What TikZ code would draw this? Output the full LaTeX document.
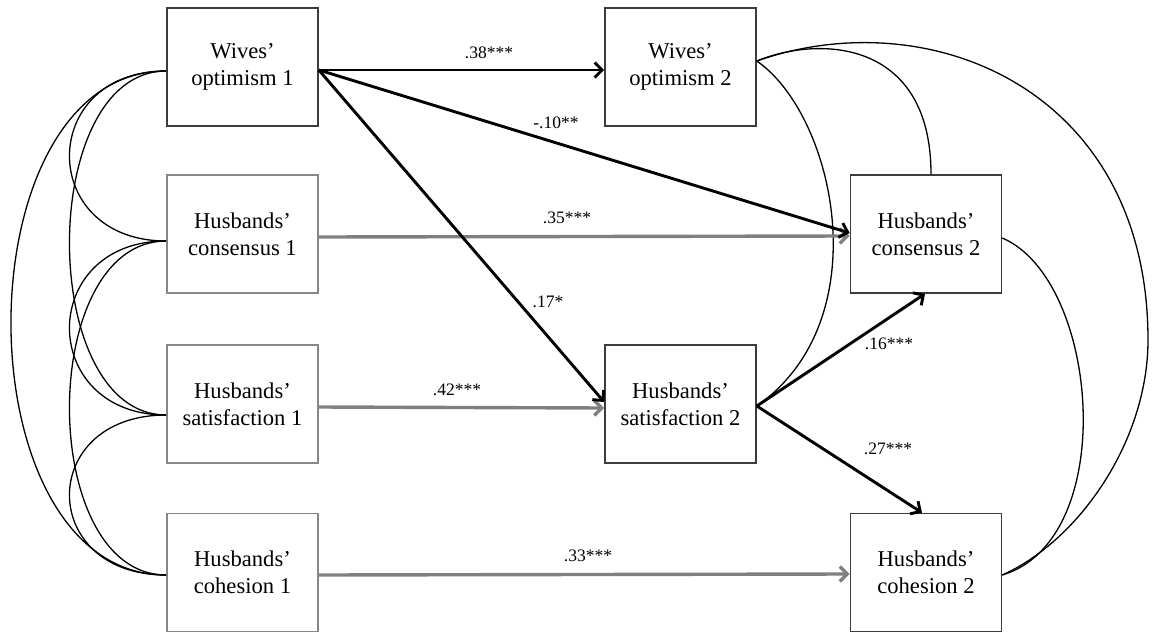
\documentclass[tikz,border=0pt]{standalone}
\usepackage{fontspec}
\setmainfont{Liberation Serif}
\usetikzlibrary{arrows.meta}
\definecolor{boxdark}{RGB}{60,60,60}
\definecolor{boxlight}{RGB}{135,135,135}
\definecolor{arrowgray}{RGB}{128,128,128}
\begin{document}
\begin{tikzpicture}[x=1pt,y=-1pt,
  box/.style={draw=boxdark, fill=white, line width=1.6pt, minimum width=151pt, minimum height=118pt, align=center, inner sep=0pt, font=\fontsize{22.6}{27}\selectfont},
  lbox/.style={box, draw=boxlight},
  blk/.style={line width=2.9pt, black, -{Straight Barb[length=7.5pt,width=15pt,line width=2.9pt]}},
  gry/.style={line width=3.4pt, arrowgray, -{Straight Barb[length=7.5pt,width=15pt,line width=3.4pt]}},
  cov/.style={line width=1.3pt, black},
  lab/.style={font=\fontsize{17.5}{20}\selectfont, inner sep=0pt}
]
\useasboundingbox (0,0) rectangle (1152,632);

% boxes
\node[box]  (W1) at (242.5,67)    {Wives’\\optimism 1};
\node[lbox] (C1) at (242.5,234)   {Husbands’\\consensus 1};
\node[lbox] (S1) at (242.5,404)   {Husbands’\\satisfaction 1};
\node[lbox] (H1) at (242.5,572.5) {Husbands’\\cohesion 1};
\node[box]  (W2) at (680.5,67)    {Wives’\\optimism 2};
\node[box]  (S2) at (680.5,404)   {Husbands’\\satisfaction 2};
\node[box]  (C2) at (926,234)     {Husbands’\\consensus 2};
\node[box]  (H2) at (926,572.5)   {Husbands’\\cohesion 2};

% attachment points
\coordinate (W1l) at ([yshift=-4pt]W1.west);
\coordinate (C1l) at ([yshift=-7pt]C1.west);
\coordinate (S1l) at ([yshift=-11pt]S1.west);
\coordinate (H1l) at ([yshift=-2.5pt]H1.west);
\coordinate (W1r) at ([yshift=-3pt]W1.east);
\coordinate (C1r) at ([yshift=-3pt]C1.east);
\coordinate (S1r) at ([yshift=-3pt]S1.east);
\coordinate (H1r) at ([yshift=-2.5pt]H1.east);
\coordinate (W2l) at ([yshift=-3pt]W2.west);
\coordinate (W2r) at ([yshift=6pt]W2.east);
\coordinate (S2la) at ([yshift=2pt]S2.west);
\coordinate (S2lb) at ([yshift=-4pt]S2.west);
\coordinate (S2r) at ([yshift=-2pt]S2.east);
\coordinate (C2la) at ([yshift=1pt]C2.west);
\coordinate (C2lb) at ([yshift=-2pt]C2.west);
\coordinate (C2b) at ([xshift=-1pt]C2.south);
\coordinate (C2t) at ([xshift=5pt]C2.north);
\coordinate (C2r) at ([yshift=-4pt]C2.east);
\coordinate (H2l) at ([yshift=-1.5pt]H2.west);
\coordinate (H2t) at ([xshift=-4pt]H2.north);
\coordinate (H2r) at ([yshift=-2.5pt]H2.east);
\coordinate (rmid) at (1148,340);

% covariances, left
\draw[cov] (W1l) .. controls +(-129,0) and +(-129,0) .. (C1l);
\draw[cov] (C1l) .. controls +(-129,0) and +(-129,0) .. (S1l);
\draw[cov] (S1l) .. controls +(-129,0) and +(-129,0) .. (H1l);
\draw[cov] (W1l) .. controls +(-129,0) and +(-129,0) .. (S1l);
\draw[cov] (C1l) .. controls +(-129,0) and +(-129,0) .. (H1l);
\draw[cov] (W1l) .. controls +(-207,0) and +(-207,0) .. (H1l);

% covariances, right
\draw[cov] (W2r) .. controls (835,115) and (880,320) .. (S2r);
\draw[cov] (W2r) .. controls (820,35) and (931,40) .. (C2t);
\draw[cov] (W2r) .. controls (930,0) and (1148,90) .. (rmid) .. controls (1148,440) and (1080,540) .. (H2r);
\draw[cov] (C2r) .. controls (1100,280) and (1120,540) .. (H2r);

% paths
\draw[gry] (C1r) -- (C2lb);
\draw[gry] (S1r) -- (S2lb);
\draw[gry] (H1r) -- (H2l);
\draw[blk] (W1r) -- (W2l);
\draw[blk] (W1r) -- (C2la);
\draw[blk] (W1r) -- (S2la);
\draw[blk] (S2r) -- (C2b);
\draw[blk] (S2r) -- (H2t);

% labels
\node[lab] (l38) at (489,53)  {.38***};
\node[lab] (l10) at (556,123) {-.10**};
\node[lab] (l35) at (567,218) {.35***};
\node[lab] (l17) at (548,302) {.17*};
\node[lab] (l42) at (457,390) {.42***};
\node[lab] (l16) at (889,344) {.16***};
\node[lab] (l27) at (888,449) {.27***};
\node[lab] (l33) at (588,556) {.33***};
\end{tikzpicture}
\end{document}
